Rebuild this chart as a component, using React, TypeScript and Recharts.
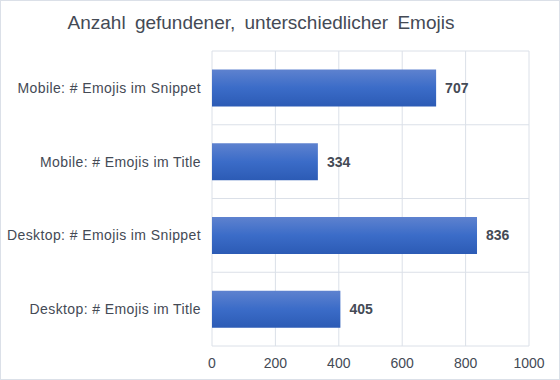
import { BarChart, Bar, XAxis, YAxis, CartesianGrid, LabelList } from 'recharts'

const categories = [
  'Mobile: # Emojis im Snippet',
  'Mobile: # Emojis im Title',
  'Desktop: # Emojis im Snippet',
  'Desktop: # Emojis im Title',
]
const counts = [707, 334, 836, 405]
const xTicks = [0, 200, 400, 600, 800, 1000]

const TEXT = '#444a55'
const GRID = '#dbe0e8'

const rows = categories.map((name, i) => ({ name, count: counts[i] }))

export default function App() {
  return (
    <div
      style={{
        position: 'absolute', left: 0, top: 0, width: 560, height: 380,
        boxSizing: 'border-box', border: `1px solid ${GRID}`, background: '#fff',
        fontFamily: '"Liberation Sans", Arial, sans-serif',
      }}
    >
      <div
        style={{
          position: 'absolute', top: 11, left: 0, width: 520, textAlign: 'center',
          fontSize: 19, color: TEXT, wordSpacing: 4,
        }}
      >
        Anzahl gefundener, unterschiedlicher Emojis
      </div>
      <BarChart
        width={558}
        height={378}
        data={rows}
        layout="vertical"
        margin={{ top: 50, right: 30, bottom: 3, left: 0 }}
        barCategoryGap="25%"
      >
        <defs>
          <linearGradient id="barFill" x1="0" y1="0" x2="0" y2="1">
            <stop offset="0%" stopColor="#5e82cf" />
            <stop offset="50%" stopColor="#3b6cc8" />
            <stop offset="100%" stopColor="#2c5bb5" />
          </linearGradient>
        </defs>
        <CartesianGrid
          stroke={GRID}
          horizontalCoordinatesGenerator={({ offset }: any) =>
            categories.map((_, i) => offset.top + (i * offset.height) / categories.length).concat(offset.top + offset.height)
          }
        />
        <XAxis
          type="number"
          domain={[0, 1000]}
          ticks={xTicks}
          height={30}
          axisLine={false}
          tickLine={false}
          tickSize={0}
          tickMargin={12}
          tick={{ fill: TEXT, fontSize: 14 }}
        />
        <YAxis
          type="category"
          dataKey="name"
          width={211}
          axisLine={false}
          tickLine={false}
          tickSize={0}
          tickMargin={11}
          tick={{ fill: TEXT, fontSize: 14, letterSpacing: 0.4 }}
        />
        <Bar dataKey="count" fill="url(#barFill)" isAnimationActive={false}>
          <LabelList dataKey="count" position="right" offset={9} fill={TEXT} fontSize={14} fontWeight="bold" />
        </Bar>
      </BarChart>
    </div>
  )
}
